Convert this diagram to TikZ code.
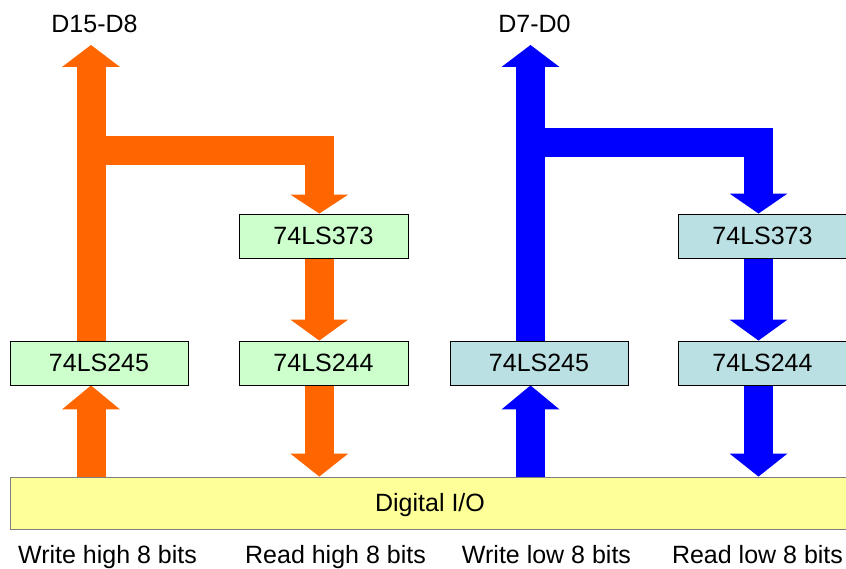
\documentclass[tikz,border=0pt]{standalone}
\usepackage{fontspec}
\setmainfont{Liberation Sans}
\usetikzlibrary{arrows.meta,backgrounds}

\definecolor{busorange}{HTML}{FF6600}
\definecolor{busblue}{HTML}{0000FF}
\definecolor{chipgreen}{HTML}{CCFFCC}
\definecolor{chipteal}{HTML}{BBE0E3}
\definecolor{iofill}{HTML}{FFFF99}
\definecolor{iorim}{HTML}{7F7F7F}

\begin{document}
\begin{tikzpicture}[x=1pt, y=-1pt,
  txt/.style={font=\fontsize{25}{30}\selectfont, inner sep=0pt},
  chip/.style={txt, draw=black, line width=0.9pt, minimum height=44pt,
    text height=17.9pt, text depth=0pt},
  busarrow/.style={line width=29pt, line cap=butt, line join=miter,
    -{Triangle[width=58pt, length=#1, line width=0pt]}},
  busarrow/.default=22pt]

\useasboundingbox (0,0) rectangle (846,569);
\clip (0,0) rectangle (846,569);

% chips and the I/O bar
\node[chip, fill=chipgreen, minimum width=178pt] (w1) at (99,363) {74LS245};
\node[chip, fill=chipgreen, minimum width=169pt] (l373) at (323.5,236) {74LS373};
\node[chip, fill=chipgreen, minimum width=169pt] (l244) at (323.5,363) {74LS244};
\node[chip, fill=chipteal, minimum width=178pt] (w2) at (539,363) {74LS245};
\node[chip, fill=chipteal, minimum width=169pt] (r373) at (762.5,236) {74LS373};
\node[chip, fill=chipteal, minimum width=169pt] (r244) at (762.5,363) {74LS244};
\node[chip, draw=iorim, fill=iofill, minimum width=840pt, minimum height=52pt] (io) at (430,503) {Digital I/O};

% bus names and captions
\node[txt, anchor=base] (dhi) at (94.5,33) {D15-D8};
\node[txt, anchor=base] (dlo) at (534.5,33) {D7-D0};
\node[txt, anchor=base] (cwh) at (107.5,563) {Write high 8 bits};
\node[txt, anchor=base] (crh) at (335.5,563) {Read high 8 bits};
\node[txt, anchor=base] (cwl) at (546.5,563) {Write low 8 bits};
\node[txt, anchor=base] (crl) at (757.5,563) {Read low 8 bits};

% lane positions of the buses
\coordinate (xa) at (91,0);
\coordinate (xb) at (319.3,0);
\coordinate (xc) at (530.5,0);
\coordinate (xd) at (758.5,0);
\coordinate (tophi) at (91,45);
\coordinate (toplo) at (530.5,45);
\coordinate (forkhi) at (91,150.5);
\coordinate (forklo) at (530.5,142.8);

\begin{scope}[on background layer]
  % high byte
  \draw[busorange, busarrow=24pt] (io.north -| xa) -- (w1.south -| xa);
  \draw[busorange, busarrow] (w1.north -| xa) -- (tophi);
  \draw[busorange, busarrow=19pt] (forkhi) -- (forkhi -| xb) -- (l373.north -| xb);
  \draw[busorange, busarrow=21pt] (l373.south -| xb) -- (l244.north -| xb);
  \draw[busorange, busarrow=23pt] (l244.south -| xb) -- (io.north -| xb);
  % low byte
  \draw[busblue, busarrow=24pt] (io.north -| xc) -- (w2.south -| xc);
  \draw[busblue, busarrow] (w2.north -| xc) -- (toplo);
  \draw[busblue, busarrow=20pt] (forklo) -- (forklo -| xd) -- (r373.north -| xd);
  \draw[busblue, busarrow=21pt] (r373.south -| xd) -- (r244.north -| xd);
  \draw[busblue, busarrow=23pt] (r244.south -| xd) -- (io.north -| xd);
\end{scope}
\end{tikzpicture}
\end{document}
